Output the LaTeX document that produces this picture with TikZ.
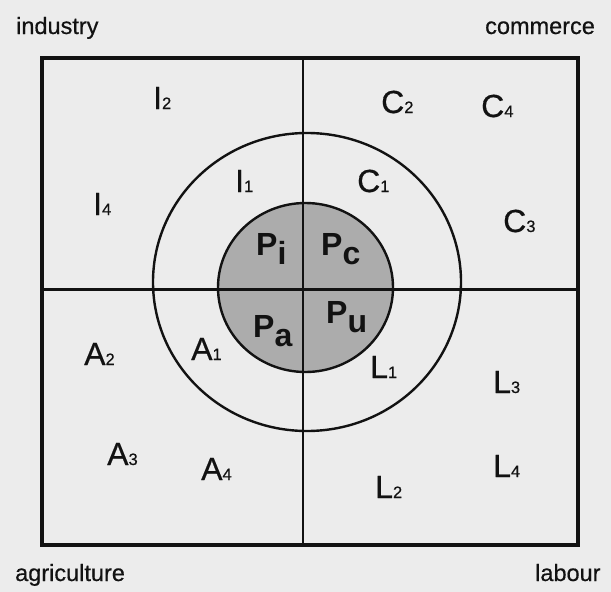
\documentclass[tikz,border=0pt]{standalone}
\usepackage{fontspec}
\setmainfont{Liberation Sans}
\newfontfamily\labfont[FakeBold=0.5]{Liberation Sans}
\definecolor{bg}{RGB}{236,236,236}
\definecolor{core}{RGB}{172,172,172}
\definecolor{ink}{RGB}{18,18,18}
\newcommand{\lab}[2]{#1{\fontsize{16.5}{17}\selectfont #2}}
\newcommand{\plab}[2]{\textbf{#1\raisebox{-9pt}{#2}}}
\begin{document}
\begin{tikzpicture}[x=1pt,y=-1pt,
  lbl/.style={anchor=base west,inner sep=0pt,text=ink,font=\labfont\fontsize{32}{32}\selectfont},
  plbl/.style={anchor=base west,inner sep=0pt,text=ink,font=\fontsize{32}{32}\selectfont\bfseries},
  corner/.style={anchor=base west,inner sep=0pt,text=ink,font=\labfont\fontsize{23.5}{24}\selectfont},
  ringline/.style={draw=ink,line width=2.4pt},
  crossline/.style={draw=ink,line width=2.6pt},
  frame/.style={draw=ink,line width=3.4pt}]
\fill[bg] (0,0) rectangle (611,592);
\useasboundingbox (0,0) rectangle (611,592);
% core
\fill[core] (305.5,287.5) ellipse [x radius=87.5pt, y radius=84.5pt];
\draw[ringline] (305.5,287.5) ellipse [x radius=87.5pt, y radius=84.5pt];
% outer ring
\draw[ringline] (307,282) ellipse [x radius=154pt, y radius=149pt];
% cross
\coordinate (top) at (303,58);
\coordinate (bot) at (303,545);
\coordinate (lft) at (42,289.5);
\coordinate (rgt) at (578,289.5);
\draw[crossline] (top) -- (bot);
\draw[crossline] (lft) -- (rgt);
% frame
\draw[frame] (42,58) rectangle (578,545);
% corner labels
\node[corner] (ind) at (16,34) {industry};
\node[corner] (com) at (485,34) {commerce};
\node[corner] (agr) at (15,581) {agriculture};
\node[corner] (lab) at (535,581) {labour};
% sector labels
\node[lbl] (I2) at (153,109) {\lab{I}{2}};
\node[lbl] (I1) at (235,192) {\lab{I}{1}};
\node[lbl] (I4) at (93,215) {\lab{I}{4}};
\node[lbl] (C2) at (381,113) {\lab{C}{2}};
\node[lbl] (C4) at (481,117) {\lab{C}{4}};
\node[lbl] (C1) at (357,192) {\lab{C}{1}};
\node[lbl] (C3) at (503,232) {\lab{C}{3}};
\node[lbl] (A1) at (191,360) {\lab{A}{1}};
\node[lbl] (A2) at (84,365) {\lab{A}{2}};
\node[lbl] (A3) at (107,465) {\lab{A}{3}};
\node[lbl] (A4) at (201,480) {\lab{A}{4}};
\node[lbl] (L1) at (370,378) {\lab{L}{1}};
\node[lbl] (L3) at (493,393) {\lab{L}{3}};
\node[lbl] (L4) at (493,477) {\lab{L}{4}};
\node[lbl] (L2) at (375,498) {\lab{L}{2}};
% core labels
\node[plbl] (Pi) at (256,255) {\plab{P}{i}};
\node[plbl] (Pc) at (321,255) {\plab{P}{c}};
\node[plbl] (Pa) at (253,337) {\plab{P}{a}};
\node[plbl] (Pu) at (326,323) {\plab{P}{u}};
\end{tikzpicture}
\end{document}
